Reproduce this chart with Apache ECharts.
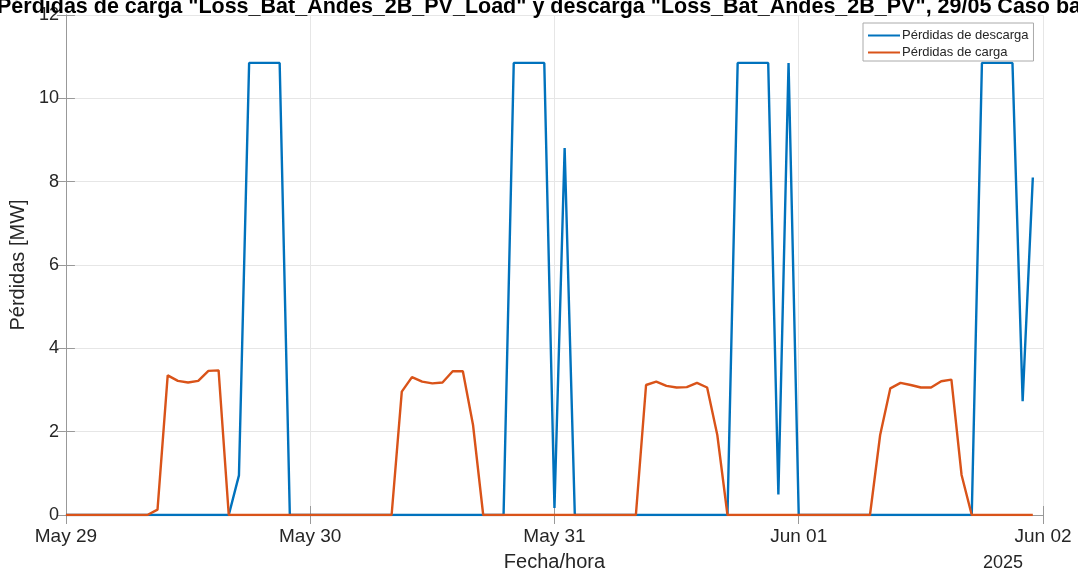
<!DOCTYPE html>
<html>
<head>
<meta charset="utf-8">
<script src="https://cdn.jsdelivr.net/npm/echarts@6/dist/echarts.min.js"></script>
<style>
  html, body { margin: 0; padding: 0; background: #fff; }
  #chart { width: 1078px; height: 577px; }
</style>
</head>
<body>
<div id="chart"></div>
<script>
// hourly samples, May 29 00:00 .. Jun 01 23:00 (index = hour)
var descarga = [
  0, 0, 0, 0, 0, 0, 0, 0, 0, 0,
  0, 0, 0, 0, 0, 0, 0, 0.95, 10.85, 10.85,
  10.85, 10.85, 0, 0, 0, 0, 0, 0, 0, 0,
  0, 0, 0, 0, 0, 0, 0, 0, 0, 0,
  0, 0, 0, 0, 10.85, 10.85, 10.85, 10.85, 0.17, 8.81,
  0, 0, 0, 0, 0, 0, 0, 0, 0, 0,
  0, 0, 0, 0, 0, 0, 10.85, 10.85, 10.85, 10.85,
  0.49, 10.85, 0, 0, 0, 0, 0, 0, 0, 0,
  0, 0, 0, 0, 0, 0, 0, 0, 0, 0,
  10.85, 10.85, 10.85, 10.85, 2.73, 8.1
];
var carga = [
  0, 0, 0, 0, 0, 0, 0, 0, 0, 0.13,
  3.35, 3.22, 3.18, 3.22, 3.46, 3.47, 0, 0, 0, 0,
  0, 0, 0, 0, 0, 0, 0, 0, 0, 0,
  0, 0, 0, 2.96, 3.31, 3.2, 3.16, 3.18, 3.45, 3.45,
  2.16, 0, 0, 0, 0, 0, 0, 0, 0, 0,
  0, 0, 0, 0, 0, 0, 0, 3.12, 3.2, 3.1,
  3.06, 3.07, 3.17, 3.06, 1.92, 0, 0, 0, 0, 0,
  0, 0, 0, 0, 0, 0, 0, 0, 0, 0,
  1.92, 3.04, 3.17, 3.12, 3.06, 3.06, 3.21, 3.25, 0.96, 0,
  0, 0, 0, 0, 0, 0
];
var dayLabels = ['May 29', 'May 30', 'May 31', 'Jun 01', 'Jun 02'];
var seriesNames = ['Pérdidas de descarga', 'Pérdidas de carga'];
var yearLabel = '2025';
var titleText = 'Pérdidas de carga "Loss_Bat_Andes_2B_PV_Load" y descarga "Loss_Bat_Andes_2B_PV", 29/05 Caso base';

function toPairs(arr) {
  return arr.map(function (v, i) { return [i, v]; });
}

var font = '"Liberation Sans", Arial, sans-serif';
var boxColor = '#999';
var gridColor = '#e6e6e6';
var textColor = '#262626';

var myChart = echarts.init(document.getElementById('chart'), null, { renderer: 'canvas' });
var option = {
  animation: false,
  backgroundColor: '#fff',
  title: {
    text: titleText,
    left: -3,
    top: -4,
    padding: 0,
    textStyle: { fontFamily: font, fontSize: 21.5, fontWeight: 'bold', color: '#000' }
  },
  grid: { left: 65, right: 35, top: 15, bottom: 60 },
  legend: {
    orient: 'vertical',
    left: 863,
    top: 23,
    padding: [6, 5, 2, 5],
    itemGap: 4,
    itemWidth: 32,
    itemHeight: 2,
    icon: 'rect',
    borderColor: '#aaa',
    borderWidth: 1,
    backgroundColor: '#fff',
    textStyle: { fontFamily: font, fontSize: 13, color: textColor, padding: [0, 0, 0, -3] },
    data: seriesNames
  },
  xAxis: [{
    type: 'value',
    min: 0,
    max: 96,
    interval: 24,
    name: 'Fecha/hora',
    nameLocation: 'middle',
    nameGap: 37,
    nameTextStyle: { fontFamily: font, fontSize: 20, color: textColor },
    axisLine: { show: true, lineStyle: { color: boxColor, width: 1 } },
    axisTick: { show: true, inside: true, length: 9, lineStyle: { color: boxColor } },
    axisLabel: {
      fontFamily: font, fontSize: 19, color: textColor, margin: 12,
      formatter: function (v) { return dayLabels[v / 24]; }
    },
    splitLine: { show: true, lineStyle: { color: gridColor } }
  }, {
    type: 'value',
    position: 'top',
    min: 0,
    max: 96,
    interval: 24,
    axisLine: { show: true, lineStyle: { color: boxColor, width: 1 } },
    axisTick: { show: true, inside: true, length: 9, lineStyle: { color: boxColor } },
    axisLabel: { show: false },
    splitLine: { show: false }
  }],
  yAxis: [{
    type: 'value',
    min: 0,
    max: 12,
    interval: 2,
    name: 'Pérdidas [MW]',
    nameLocation: 'middle',
    nameGap: 29,
    nameTextStyle: { fontFamily: font, fontSize: 20, color: textColor },
    axisLine: { show: true, lineStyle: { color: boxColor, width: 1 } },
    axisTick: { show: true, inside: true, length: 9, lineStyle: { color: boxColor } },
    axisLabel: { fontFamily: font, fontSize: 18, color: textColor, margin: 7 },
    splitLine: { show: true, lineStyle: { color: gridColor } }
  }, {
    type: 'value',
    position: 'right',
    min: 0,
    max: 12,
    interval: 2,
    axisLine: { show: true, lineStyle: { color: boxColor, width: 1 } },
    axisTick: { show: true, inside: true, length: 9, lineStyle: { color: boxColor } },
    axisLabel: { show: false },
    splitLine: { show: false }
  }],
  graphic: [{
    type: 'text',
    left: 983,
    top: 554,
    style: { text: yearLabel, font: '18px ' + font, fill: textColor }
  }],
  series: [{
    name: seriesNames[0],
    type: 'line',
    data: toPairs(descarga),
    showSymbol: false,
    color: '#0072BD',
    lineStyle: { width: 2.4, color: '#0072BD' },
    z: 2
  }, {
    name: seriesNames[1],
    type: 'line',
    data: toPairs(carga),
    showSymbol: false,
    color: '#D95319',
    lineStyle: { width: 2.4, color: '#D95319' },
    z: 3
  }]
};
myChart.setOption(option);

window.addEventListener('resize', function () {
  myChart.resize();
});
</script>
</body>
</html>
